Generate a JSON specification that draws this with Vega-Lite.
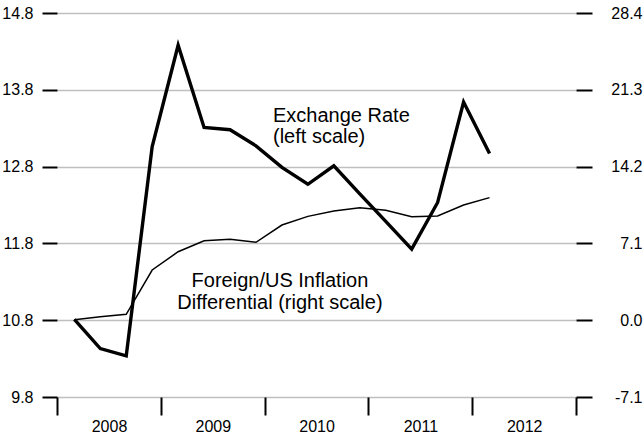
{
  "$schema": "https://vega.github.io/schema/vega-lite/v6.json",
  "autosize": "none",
  "width": 519,
  "height": 384,
  "padding": {"left": 57, "top": 13, "right": 68, "bottom": 36},
  "background": "white",
  "config": {
    "view": {"stroke": null},
    "font": "Liberation Sans",
    "axis": {"labelFont": "Liberation Sans", "labelColor": "black", "labelFontSize": 16, "titleFont": "Liberation Sans"}
  },
  "datasets": {
    "series": [
      {"t": 2008.167, "er": 10.81, "inf": 0.05},
      {"t": 2008.417, "er": 10.43, "inf": 0.32},
      {"t": 2008.667, "er": 10.335, "inf": 0.54},
      {"t": 2008.917, "er": 13.06, "inf": 4.64},
      {"t": 2009.167, "er": 14.38, "inf": 6.33},
      {"t": 2009.417, "er": 13.31, "inf": 7.35},
      {"t": 2009.667, "er": 13.28, "inf": 7.48},
      {"t": 2009.917, "er": 13.07, "inf": 7.2},
      {"t": 2010.167, "er": 12.79, "inf": 8.8},
      {"t": 2010.417, "er": 12.57, "inf": 9.6},
      {"t": 2010.667, "er": 12.81, "inf": 10.1},
      {"t": 2010.917, "er": 12.445, "inf": 10.4},
      {"t": 2011.167, "er": 12.086, "inf": 10.16},
      {"t": 2011.417, "er": 11.725, "inf": 9.57},
      {"t": 2011.667, "er": 12.333, "inf": 9.63},
      {"t": 2011.917, "er": 13.64, "inf": 10.65},
      {"t": 2012.167, "er": 12.97, "inf": 11.33}
    ],
    "notes": [
      {"label": "exchange"}
    ]
  },
  "layer": [
    {
      "layer": [
        {
          "data": {"name": "series"},
          "mark": {"type": "line", "color": "black", "strokeWidth": 3.4, "strokeJoin": "miter"},
          "encoding": {
            "x": {
              "field": "t", "type": "quantitative",
              "scale": {"domain": [2008, 2013], "nice": false, "zero": false},
              "axis": {
                "values": [2008, 2009, 2010, 2011, 2012, 2013],
                "format": "d",
                "labelExpr": "datum.value < 2013 ? datum.label : ''",
                "labelOffset": 52,
                "labelFlush": false,
                "labelOverlap": false,
                "labelBound": false,
                "labelPadding": 3,
                "tickSize": 18, "tickWidth": 2, "tickColor": "black",
                "domain": false, "grid": false, "title": null,
                "labelFontSize": 16
              }
            },
            "y": {
              "field": "er", "type": "quantitative",
              "scale": {"domain": [9.8, 14.8], "nice": false, "zero": false},
              "axis": {
                "orient": "left",
                "values": [9.8, 10.8, 11.8, 12.8, 13.8, 14.8],
                "format": ".1f",
                "tickSize": 15, "tickWidth": 2, "tickColor": "black",
                "labelPadding": 9,
                "labelFlush": false,
                "domain": false,
                "grid": true, "gridColor": "#bfbfbf", "gridWidth": 1.5,
                "title": null
              }
            }
          }
        },
        {
          "data": {"name": "notes"},
          "mark": {"type": "text", "align": "left", "baseline": "alphabetic", "fontSize": 20, "lineBreak": "\n", "lineHeight": 21, "font": "Liberation Sans", "fill": "black"},
          "encoding": {
            "x": {"datum": 2010.081, "type": "quantitative"},
            "y": {"datum": 13.383, "type": "quantitative"},
            "text": {"value": "Exchange Rate\n(left scale)"}
          }
        },
        {
          "data": {"name": "notes"},
          "mark": {"type": "text", "align": "center", "baseline": "alphabetic", "fontSize": 20, "lineBreak": "\n", "lineHeight": 21.6, "font": "Liberation Sans", "fill": "black"},
          "encoding": {
            "x": {"datum": 2010.148, "type": "quantitative"},
            "y": {"datum": 11.233, "type": "quantitative"},
            "text": {"value": "Foreign/US Inflation\nDifferential (right scale)"}
          }
        }
      ]
    },
    {
      "data": {"name": "series"},
      "mark": {"type": "line", "color": "black", "strokeWidth": 1.5},
      "encoding": {
        "x": {"field": "t", "type": "quantitative"},
        "y": {
          "field": "inf", "type": "quantitative",
          "scale": {"domain": [-7.1, 28.4], "nice": false, "zero": false},
          "axis": {
            "orient": "right",
            "values": [-7.1, 0, 7.1, 14.2, 21.3, 28.4],
            "format": ".1f",
            "labelExpr": "replace(datum.label, '\u2212', '-')",
            "labelFlush": false,
            "tickSize": 16, "tickWidth": 2, "tickColor": "black",
            "labelAlign": "right",
            "labelPadding": 50,
            "domain": false, "grid": false, "title": null
          }
        }
      }
    }
  ],
  "resolve": {"scale": {"y": "independent"}}
}
